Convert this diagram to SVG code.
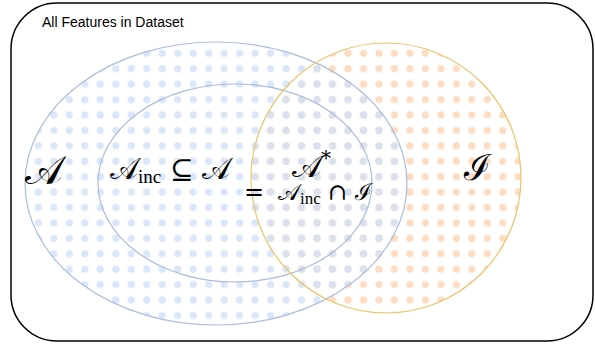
<svg xmlns="http://www.w3.org/2000/svg" width="595" height="347" viewBox="0 0 595 347">
<style>
.lbl{font-family:"Liberation Sans",Arial,sans-serif;font-size:14px;fill:#000}
.math{font-family:"DejaVu Serif","Liberation Serif",serif;fill:#000}
.sub{font-family:"Liberation Serif","DejaVu Serif",serif}
</style>
<defs>
<filter id="soft" x="-50%" y="-50%" width="200%" height="200%"><feGaussianBlur stdDeviation="0.6"/></filter>
<pattern id="pb" patternUnits="userSpaceOnUse" x="139" y="45.6" width="15.48" height="15.42">
<circle cx="7.74" cy="7.71" r="3.6" fill="#d3e1f8" filter="url(#soft)"/>
</pattern>
<pattern id="po" patternUnits="userSpaceOnUse" x="139" y="45.6" width="15.48" height="15.42">
<circle cx="7.74" cy="7.71" r="3.6" fill="#fddcc2" filter="url(#soft)"/>
</pattern>
</defs>
<g id="dataset">
<rect x="11" y="3" width="582" height="338" rx="46" ry="46" fill="#fff" stroke="#000" stroke-width="1.5"/>
<text class="lbl" x="42" y="27">All Features in Dataset</text>
</g>
<g id="I">
<circle cx="386" cy="178" r="135" fill="url(#po)"/>
</g>
<g id="A">
<ellipse cx="216" cy="183.5" rx="191" ry="141.5" fill="url(#pb)" opacity="0.85"/>
<ellipse cx="216" cy="183.5" rx="191" ry="141.5" fill="none" stroke="#a9bcdc" stroke-width="1.2"/>
<text class="math" x="25" y="184" font-size="40">𝒜</text>
</g>
<g id="Ainc">
<ellipse cx="235" cy="183" rx="137" ry="99" fill="none" stroke="#a9bcdc" stroke-width="1.2"/>
<text class="math" x="110" y="179" font-size="30">𝒜<tspan class="sub" font-size="19" dy="4">inc</tspan><tspan dy="-4" font-size="28"> ⊆ </tspan>𝒜</text>
</g>
<g id="I-outline">
<circle cx="386" cy="178" r="135" fill="none" stroke="#e9c469" stroke-width="1.2"/>
<text class="math" x="464" y="180" font-size="36">ℐ</text>
</g>
<g id="Astar">
<text class="math" x="292" y="177" font-size="31">𝒜<tspan font-size="20" dy="-12">*</tspan></text>
<text class="math" x="244" y="200" font-size="24">=<tspan x="278" font-size="23">𝒜</tspan><tspan class="sub" font-size="17" dy="4">inc</tspan><tspan dy="-4" font-size="23"> ∩ ℐ</tspan></text>
</g>
<g id="connectors"></g>
</svg>
